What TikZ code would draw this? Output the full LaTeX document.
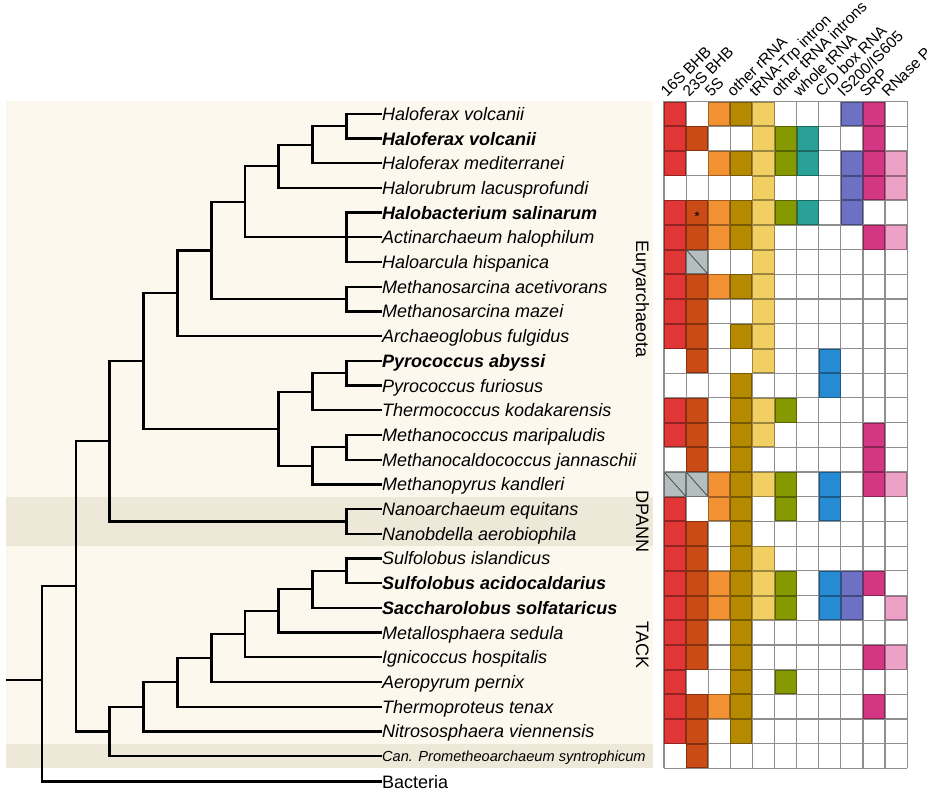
\documentclass[tikz,border=0pt]{standalone}
\usepackage{fontspec}
\setmainfont{Liberation Sans}
\definecolor{bgmain}{HTML}{FDF8EE}
\definecolor{bgband}{HTML}{EEE8D8}
\definecolor{col1}{HTML}{E03636}
\definecolor{col2}{HTML}{CB4B16}
\definecolor{col3}{HTML}{F39232}
\definecolor{col4}{HTML}{B58900}
\definecolor{col5}{HTML}{F1CF63}
\definecolor{col6}{HTML}{879900}
\definecolor{col7}{HTML}{2AA198}
\definecolor{col8}{HTML}{268BD2}
\definecolor{col9}{HTML}{6C71C4}
\definecolor{col10}{HTML}{D33682}
\definecolor{col11}{HTML}{EDA1C7}
\definecolor{nacell}{HTML}{B5BEBE}
\definecolor{gridgray}{HTML}{8E8E8E}
\begin{document}
\begin{tikzpicture}[x=1pt,y=-1pt,
  branch/.style={line width=2.3pt,black},
  leaf/.style={anchor=west,inner sep=0pt,text height=13pt,text depth=0pt,font=\fontsize{18}{20}\selectfont\itshape},
  leafb/.style={leaf,font=\fontsize{18}{20}\selectfont\bfseries\itshape},
  leafs/.style={anchor=west,inner sep=0pt,text height=10.5pt,text depth=0pt,font=\fontsize{14.6}{16}\selectfont\itshape},
  clade/.style={rotate=-90,anchor=base,inner sep=0pt,font=\fontsize{18}{20}\selectfont},
  head/.style={rotate=45,anchor=base west,inner sep=0pt,font=\fontsize{15.5}{17}\selectfont},
  gridline/.style={gridgray,line width=1.2pt},
  cellbox/.style={line width=0.9pt},
]
\useasboundingbox (0,0) rectangle (935,794);
% backgrounds
\fill[bgmain] (6,101.5) rectangle (652.5,768.4);
\fill[bgband] (6,496.7) rectangle (652.5,546.1);
\fill[bgband] (6,743.7) rectangle (652.5,768.4);

% leaf labels
\node[leaf]  (L1)  at (382,113.85) {Haloferax volcanii};
\node[leafb] (L2)  at (382,138.55) {Haloferax volcanii};
\node[leaf]  (L3)  at (382,163.25) {Haloferax mediterranei};
\node[leaf]  (L4)  at (382,187.95) {Halorubrum lacusprofundi};
\node[leafb] (L5)  at (382,212.65) {Halobacterium salinarum};
\node[leaf]  (L6)  at (382,237.35) {Actinarchaeum halophilum};
\node[leaf]  (L7)  at (382,262.05) {Haloarcula hispanica};
\node[leaf]  (L8)  at (382,286.75) {Methanosarcina acetivorans};
\node[leaf]  (L9)  at (382,311.45) {Methanosarcina mazei};
\node[leaf]  (L10) at (382,336.15) {Archaeoglobus fulgidus};
\node[leafb] (L11) at (382,360.85) {Pyrococcus abyssi};
\node[leaf]  (L12) at (382,385.55) {Pyrococcus furiosus};
\node[leaf]  (L13) at (382,410.25) {Thermococcus kodakarensis};
\node[leaf]  (L14) at (382,434.95) {Methanococcus maripaludis};
\node[leaf]  (L15) at (382,459.65) {Methanocaldococcus jannaschii};
\node[leaf]  (L16) at (382,484.35) {Methanopyrus kandleri};
\node[leaf]  (L17) at (382,509.05) {Nanoarchaeum equitans};
\node[leaf]  (L18) at (382,533.75) {Nanobdella aerobiophila};
\node[leaf]  (L19) at (382,558.45) {Sulfolobus islandicus};
\node[leafb] (L20) at (382,583.15) {Sulfolobus acidocaldarius};
\node[leafb] (L21) at (382,607.85) {Saccharolobus solfataricus};
\node[leaf]  (L22) at (382,632.55) {Metallosphaera sedula};
\node[leaf]  (L23) at (382,657.25) {Ignicoccus hospitalis};
\node[leaf]  (L24) at (382,681.95) {Aeropyrum pernix};
\node[leaf]  (L25) at (382,706.65) {Thermoproteus tenax};
\node[leaf]  (L26) at (382,731.35) {Nitrososphaera viennensis};
\node[leafs] (L27) at (382,756.05) {Can. Prometheoarchaeum syntrophicum};
\node[leaf,font=\fontsize{18}{20}\selectfont] (Lb) at (382,781.5) {Bacteria};

% clade labels
\node[clade] (cE) at (636,299) {Euryarchaeota};
\node[clade] (cD) at (636,521.4) {DPANN};
\node[clade] (cT) at (636,645) {TACK};

% internal nodes
\coordinate (a1) at (346.5,126.2);
\coordinate (a2) at (312.5,144.7);
\coordinate (a3) at (278.5,166.3);
\coordinate (a4) at (346.5,237.35);
\coordinate (a5) at (245,201.8);
\coordinate (a6) at (346.5,299.1);
\coordinate (a7) at (211.5,250.5);
\coordinate (a8) at (177.5,293.3);
\coordinate (b1) at (346.5,373.2);
\coordinate (b2) at (312.5,391.7);
\coordinate (b3) at (346.5,447.3);
\coordinate (b4) at (312.5,465.8);
\coordinate (b5) at (278.5,428.8);
\coordinate (eu) at (143.5,361);
\coordinate (dp) at (346.5,521.4);
\coordinate (ed) at (109.5,441.2);
\coordinate (t1) at (346.5,570.8);
\coordinate (t2) at (312.5,589.3);
\coordinate (t3) at (278.5,610.9);
\coordinate (t4) at (245,634.1);
\coordinate (t5) at (211.5,658);
\coordinate (t6) at (177.5,682.3);
\coordinate (t7) at (143.5,706.8);
\coordinate (t8) at (109.5,731.4);
\coordinate (ar) at (76,586.3);
\coordinate (root) at (42,680);
\coordinate (stub) at (6,680);

% tree
\begin{scope}[branch]
\draw (a1) |- (L1.west); \draw (a1) |- (L2.west);
\draw (a2) |- (a1); \draw (a2) |- (L3.west);
\draw (a3) |- (a2); \draw (a3) |- (L4.west);
\draw (a4) |- (L5.west); \draw (a4) -- (L6.west); \draw (a4) |- (L7.west);
\draw (a5) |- (a3); \draw (a5) |- (a4);
\draw (a6) |- (L8.west); \draw (a6) |- (L9.west);
\draw (a7) |- (a5); \draw (a7) |- (a6);
\draw (a8) |- (a7); \draw (a8) |- (L10.west);
\draw (b1) |- (L11.west); \draw (b1) |- (L12.west);
\draw (b2) |- (b1); \draw (b2) |- (L13.west);
\draw (b3) |- (L14.west); \draw (b3) |- (L15.west);
\draw (b4) |- (b3); \draw (b4) |- (L16.west);
\draw (b5) |- (b2); \draw (b5) |- (b4);
\draw (eu) |- (a8); \draw (eu) |- (b5);
\draw (dp) |- (L17.west); \draw (dp) |- (L18.west);
\draw (ed) |- (eu); \draw (ed) |- (dp);
\draw (t1) |- (L19.west); \draw (t1) |- (L20.west);
\draw (t2) |- (t1); \draw (t2) |- (L21.west);
\draw (t3) |- (t2); \draw (t3) |- (L22.west);
\draw (t4) |- (t3); \draw (t4) |- (L23.west);
\draw (t5) |- (t4); \draw (t5) |- (L24.west);
\draw (t6) |- (t5); \draw (t6) |- (L25.west);
\draw (t7) |- (t6); \draw (t7) |- (L26.west);
\draw (t8) |- (t7); \draw (t8) |- (L27.west);
\draw (ar) |- (ed); \draw (ar) |- (t8);
\draw (root) |- (ar); \draw (root) |- (Lb.west);
\draw (stub) -- (root);
\end{scope}

% grid
\foreach \k in {0,...,11} \draw[gridline] ({664+22.1*\k},101.5) -- ({664+22.1*\k},768.4);
\foreach \k in {0,...,27} \draw[gridline] (664,{101.5+24.7*\k}) -- (907.1,{101.5+24.7*\k});

% coloured cells
\foreach \r/\cl in {
  1/{1,3,4,5,9,10},
  2/{1,2,5,6,7,10},
  3/{1,3,4,5,6,7,9,10,11},
  4/{5,9,10,11},
  5/{1,2,3,4,5,6,7,9},
  6/{1,2,3,4,5,10,11},
  7/{1,5},
  8/{1,2,3,4,5},
  9/{1,2,5},
  10/{1,2,4,5},
  11/{2,5,8},
  12/{4,8},
  13/{1,2,4,5,6},
  14/{1,2,4,5,10},
  15/{2,4,10},
  16/{3,4,5,6,8,10,11},
  17/{1,3,4,6,8},
  18/{1,2,4},
  19/{1,2,4,5},
  20/{1,2,3,4,5,6,8,9,10},
  21/{1,2,3,4,5,6,8,9,11},
  22/{1,2,4},
  23/{1,2,4,10,11},
  24/{1,4,6},
  25/{1,2,3,4,10},
  26/{1,2,4},
  27/{2}}{
  \foreach \c in \cl {
    \filldraw[cellbox,fill=col\c,draw=col\c!65!black]
      ({664+22.1*(\c-1)+0.5},{101.5+24.7*(\r-1)+0.5}) rectangle +(21.1,23.7);
  }
}
% not available cells
\foreach \r/\c in {7/2,16/1,16/2}{
  \filldraw[cellbox,fill=nacell,draw=nacell!60!black]
    ({664+22.1*(\c-1)+0.5},{101.5+24.7*(\r-1)+0.5}) rectangle +(21.1,23.7);
  \draw[line width=0.8pt,black!70] ({664+22.1*(\c-1)+0.5},{101.5+24.7*(\r-1)+0.5}) -- +(21.1,23.7);
}
\node[inner sep=0pt,font=\fontsize{14}{14}\selectfont] (star) at (697,216.5) {*};

% headers
\foreach \t [count=\k] in {16S BHB,23S BHB,5S,other rRNA,tRNA-Trp intron,other tRNA introns,whole tRNA,C/D box RNA,IS200/IS605,SRP,RNase P}{
  \node[head] (H\k) at ({664+22.1*(\k-1)+3},98) {\t};
}
\end{tikzpicture}
\end{document}
